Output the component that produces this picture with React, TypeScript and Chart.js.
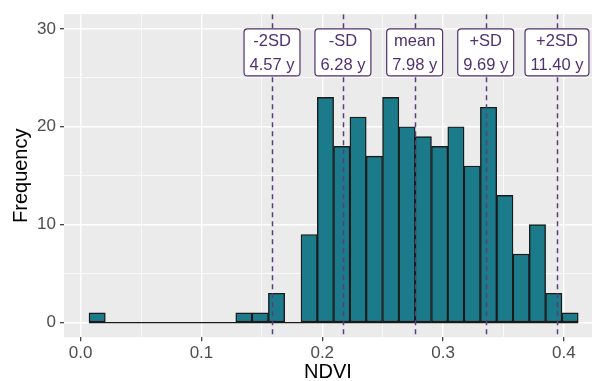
import React, { useEffect, useRef } from "react";
import { Chart, registerables } from "chart.js";

Chart.register(...registerables);

// Histogram bins (NDVI)
const binStart = 0.0069;
const binWidth = 0.0135;
const binCounts = [1, 0, 0, 0, 0, 0, 0, 0, 0, 1, 1, 3, 0, 9, 23, 18, 21, 17, 23, 20, 19, 18, 20, 16, 22, 13, 7, 10, 3, 1];

// Reference lines (mean ± SD)
const refValues = [0.1584, 0.2171, 0.2765, 0.3353, 0.3943];
const refNames = ["-2SD", "-SD", "mean", "+SD", "+2SD"];
const refAges = ["4.57 y", "6.28 y", "7.98 y", "9.69 y", "11.40 y"];
const labelY = 27.6;

// Axes
const xTickValues = [0, 0.05, 0.1, 0.15, 0.2, 0.25, 0.3, 0.35, 0.4];
const xTickLabels = ["0.0", "", "0.1", "", "0.2", "", "0.3", "", "0.4"];
const yTickValues = [0, 5, 10, 15, 20, 25, 30];
const yTickLabels = ["0", "", "10", "", "20", "", "30"];
const xMin = -0.0138;
const xMax = 0.4233;
const yMin = -1.5;
const yMax = 31.5;

const FONT = "'Liberation Sans', Arial, Helvetica, sans-serif";
const PURPLE = "#50306e";

const panelBg = {
  id: "panelBg",
  beforeDraw(chart: any) {
    const { ctx, chartArea } = chart;
    ctx.save();
    ctx.fillStyle = "#EBEBEB";
    ctx.fillRect(chartArea.left, chartArea.top, chartArea.right - chartArea.left, chartArea.bottom - chartArea.top);
    ctx.restore();
  },
};

const refLines = {
  id: "refLines",
  afterDatasetsDraw(chart: any) {
    const { ctx, chartArea, scales } = chart;
    const xs = scales.x;
    const ys = scales.y;
    ctx.save();
    ctx.beginPath();
    ctx.rect(chartArea.left, chartArea.top, chartArea.right - chartArea.left, chartArea.bottom - chartArea.top);
    ctx.clip();
    ctx.strokeStyle = "#5a3d7e";
    ctx.lineWidth = 1.5;
    ctx.setLineDash([5, 4]);
    refValues.forEach((v) => {
      const px = Math.round(xs.getPixelForValue(v)) + 0.5;
      ctx.beginPath();
      ctx.moveTo(px, chartArea.top);
      ctx.lineTo(px, chartArea.bottom);
      ctx.stroke();
    });
    ctx.setLineDash([]);
    // labels
    ctx.font = `16.5px ${FONT}`;
    const cy = ys.getPixelForValue(labelY);
    const boxH = 47;
    const padX = 5.5;
    refValues.forEach((v, i) => {
      const px = xs.getPixelForValue(v);
      const w = Math.max(ctx.measureText(refNames[i]).width, ctx.measureText(refAges[i]).width) + padX * 2;
      const x0 = px - w / 2;
      const y0 = cy - boxH / 2;
      ctx.beginPath();
      if ((ctx as any).roundRect) {
        (ctx as any).roundRect(x0, y0, w, boxH, 3.5);
      } else {
        ctx.rect(x0, y0, w, boxH);
      }
      ctx.fillStyle = "#ffffff";
      ctx.fill();
      ctx.lineWidth = 1.2;
      ctx.strokeStyle = PURPLE;
      ctx.stroke();
      ctx.fillStyle = PURPLE;
      ctx.textAlign = "center";
      ctx.textBaseline = "alphabetic";
      const cap = 16.5 * 0.358;
      ctx.fillText(refNames[i], px, cy - 11.9 + cap);
      ctx.fillText(refAges[i], px, cy + 11.9 + cap);
    });
    ctx.restore();
  },
};

export default function App() {
  const ref = useRef<HTMLCanvasElement | null>(null);

  useEffect(() => {
    if (!ref.current) return;
    const barData = binCounts.map((c, i) => ({ x: binStart + binWidth * (i + 0.5), y: c }));
    const baseLine = [
      { x: binStart, y: 0 },
      { x: binStart + binWidth * binCounts.length, y: 0 },
    ];
    const isMajorX = (v: number) => xTickLabels[xTickValues.findIndex((t) => Math.abs(t - v) < 1e-9)] !== "";
    const isMajorY = (v: number) => yTickLabels[yTickValues.indexOf(v)] !== "";

    const chart = new Chart(ref.current, {
      type: "bar",
      data: {
        datasets: [
          {
            type: "bar",
            data: barData as any,
            backgroundColor: "#1b7b8b",
            borderColor: "#1a1a1a",
            borderWidth: 1.4,
            borderSkipped: false,
            barPercentage: 1,
            categoryPercentage: 1,
            order: 0,
          } as any,
          {
            type: "line",
            data: baseLine as any,
            borderColor: "#1a1a1a",
            borderWidth: 1.3,
            pointRadius: 0,
            order: 1,
          } as any,
        ],
      },
      options: {
        animation: false,
        responsive: false,
        devicePixelRatio: 1,
        layout: { padding: { top: 9.5, right: 0, bottom: 0, left: 0 } },
        plugins: { legend: { display: false }, tooltip: { enabled: false } },
        scales: {
          x: {
            type: "linear",
            min: xMin,
            max: xMax,
            offset: false,
            afterBuildTicks: (s: any) => {
              s.ticks = xTickValues.map((v) => ({ value: v }));
            },
            afterFit: (s: any) => {
              s.height = 43.7;
            },
            border: { display: false },
            grid: {
              offset: false,
              color: "#ffffff",
              lineWidth: (c: any) => (c.tick && isMajorX(c.tick.value) ? 1.4 : 0.7),
              tickColor: (c: any) => (c.tick && isMajorX(c.tick.value) ? "#333333" : "rgba(0,0,0,0)"),
              tickWidth: 1.2,
              tickLength: 4,
            },
            ticks: {
              autoSkip: false,
              maxRotation: 0,
              padding: 2,
              color: "#4d4d4d",
              font: { family: FONT, size: 17 },
              callback: (v: any) => {
                const i = xTickValues.findIndex((t) => Math.abs(t - Number(v)) < 1e-9);
                return i >= 0 ? xTickLabels[i] : "";
              },
            },
            title: {
              display: true,
              text: "NDVI",
              color: "#000000",
              font: { family: FONT, size: 20, lineHeight: 0.9 },
              padding: { top: 0, bottom: 0 },
            },
          },
          y: {
            type: "linear",
            min: yMin,
            max: yMax,
            afterBuildTicks: (s: any) => {
              s.ticks = yTickValues.map((v) => ({ value: v }));
            },
            afterFit: (s: any) => {
              s.width = 64;
            },
            border: { display: false },
            grid: {
              color: "#ffffff",
              lineWidth: (c: any) => (c.tick && isMajorY(c.tick.value) ? 1.4 : 0.7),
              tickColor: (c: any) => (c.tick && isMajorY(c.tick.value) ? "#333333" : "rgba(0,0,0,0)"),
              tickWidth: 1.2,
              tickLength: 4,
            },
            ticks: {
              autoSkip: false,
              padding: 4,
              color: "#4d4d4d",
              font: { family: FONT, size: 17 },
              callback: (v: any) => {
                const i = yTickValues.indexOf(Number(v));
                return i >= 0 ? yTickLabels[i] : "";
              },
            },
            title: {
              display: true,
              text: "Frequency",
              color: "#000000",
              font: { family: FONT, size: 20, lineHeight: 1.2 },
              padding: { top: 9, bottom: 0 },
            },
          },
        },
      },
      plugins: [panelBg, refLines],
    } as any);
    return () => chart.destroy();
  }, []);

  return (
    <div style={{ position: "fixed", left: 0, top: 0, width: 592, height: 381, background: "#ffffff" }}>
      <canvas ref={ref} width={592} height={381} style={{ display: "block", width: 592, height: 381 }} />
    </div>
  );
}
